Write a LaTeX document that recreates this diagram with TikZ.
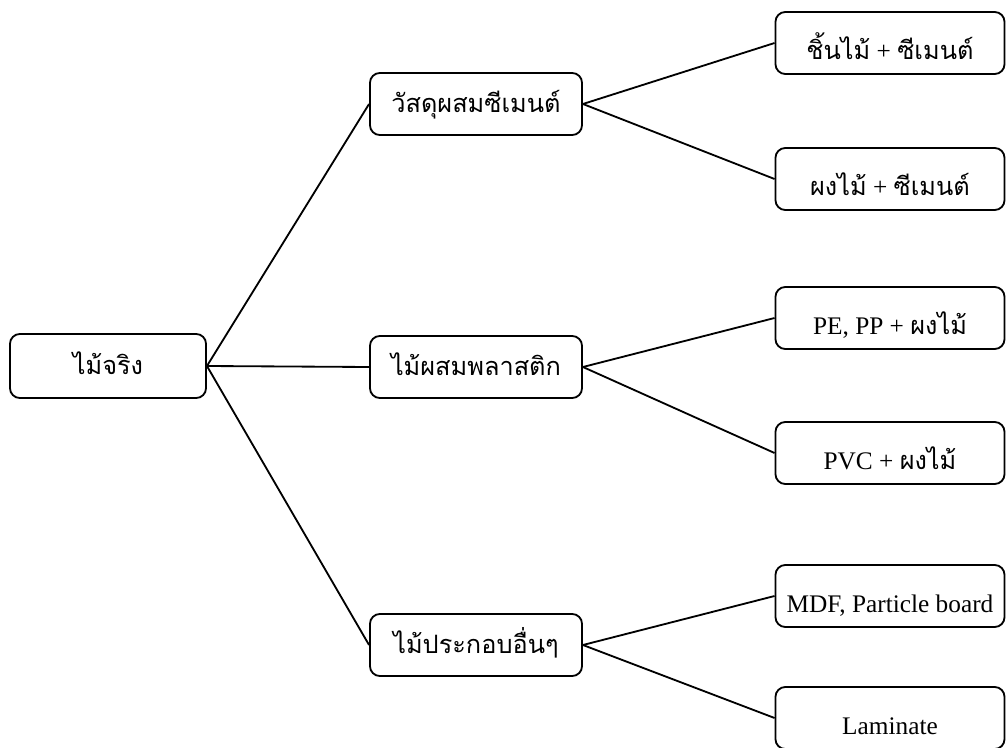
\documentclass[tikz,border=0pt]{standalone}
\usepackage{fontspec}
\setmainfont{Liberation Serif}
\newfontfamily\thaifont[Script=Thai]{Loma}
\begin{document}
\begin{tikzpicture}[x=0.025cm,y=-0.025cm]
	\tikzset{
		box/.style={draw,line width=1.3pt,rounded corners=7pt,inner sep=0pt,
			font=\fontsize{18}{21}\selectfont,text height=14pt,text depth=2pt},
		rootbox/.style={box,minimum width=4.9cm,minimum height=1.6cm},
		midbox/.style={box,minimum width=5.3cm,minimum height=1.55cm},
		leafbox/.style={box,minimum width=5.725cm,minimum height=1.55cm,
			text height=25pt,text depth=2pt},
		link/.style={line width=1.3pt}}
	\useasboundingbox (0,0) rectangle (1008,748);
	\node[rootbox](r) at (108,366){\thaifont ไม้จริง};
	\node[midbox](m1) at (476,104){\thaifont วัสดุผสมซีเมนต์};
	\node[midbox](m2) at (476,367){\thaifont ไม้ผสมพลาสติก};
	\node[midbox](m3) at (476,645){\thaifont ไม้ประกอบอื่นๆ};
	\node[leafbox](l1) at (890,43){{\thaifont ชิ้นไม้} + {\thaifont ซีเมนต์}};
	\node[leafbox](l2) at (890,179){{\thaifont ผงไม้} + {\thaifont ซีเมนต์}};
	\node[leafbox](l3) at (890,318){PE, PP + {\thaifont ผงไม้}};
	\node[leafbox](l4) at (890,453){PVC + {\thaifont ผงไม้}};
	\node[leafbox](l5) at (890,596){MDF, Particle board};
	\node[leafbox](l6) at (890,718){Laminate};
	\draw[link](r.east)--(m1.west);
	\draw[link](r.east)--(m2.west);
	\draw[link](r.east)--(m3.west);
	\draw[link](m1.east)--(l1.west);
	\draw[link](m1.east)--(l2.west);
	\draw[link](m2.east)--(l3.west);
	\draw[link](m2.east)--(l4.west);
	\draw[link](m3.east)--(l5.west);
	\draw[link](m3.east)--(l6.west);
\end{tikzpicture}
\end{document}
